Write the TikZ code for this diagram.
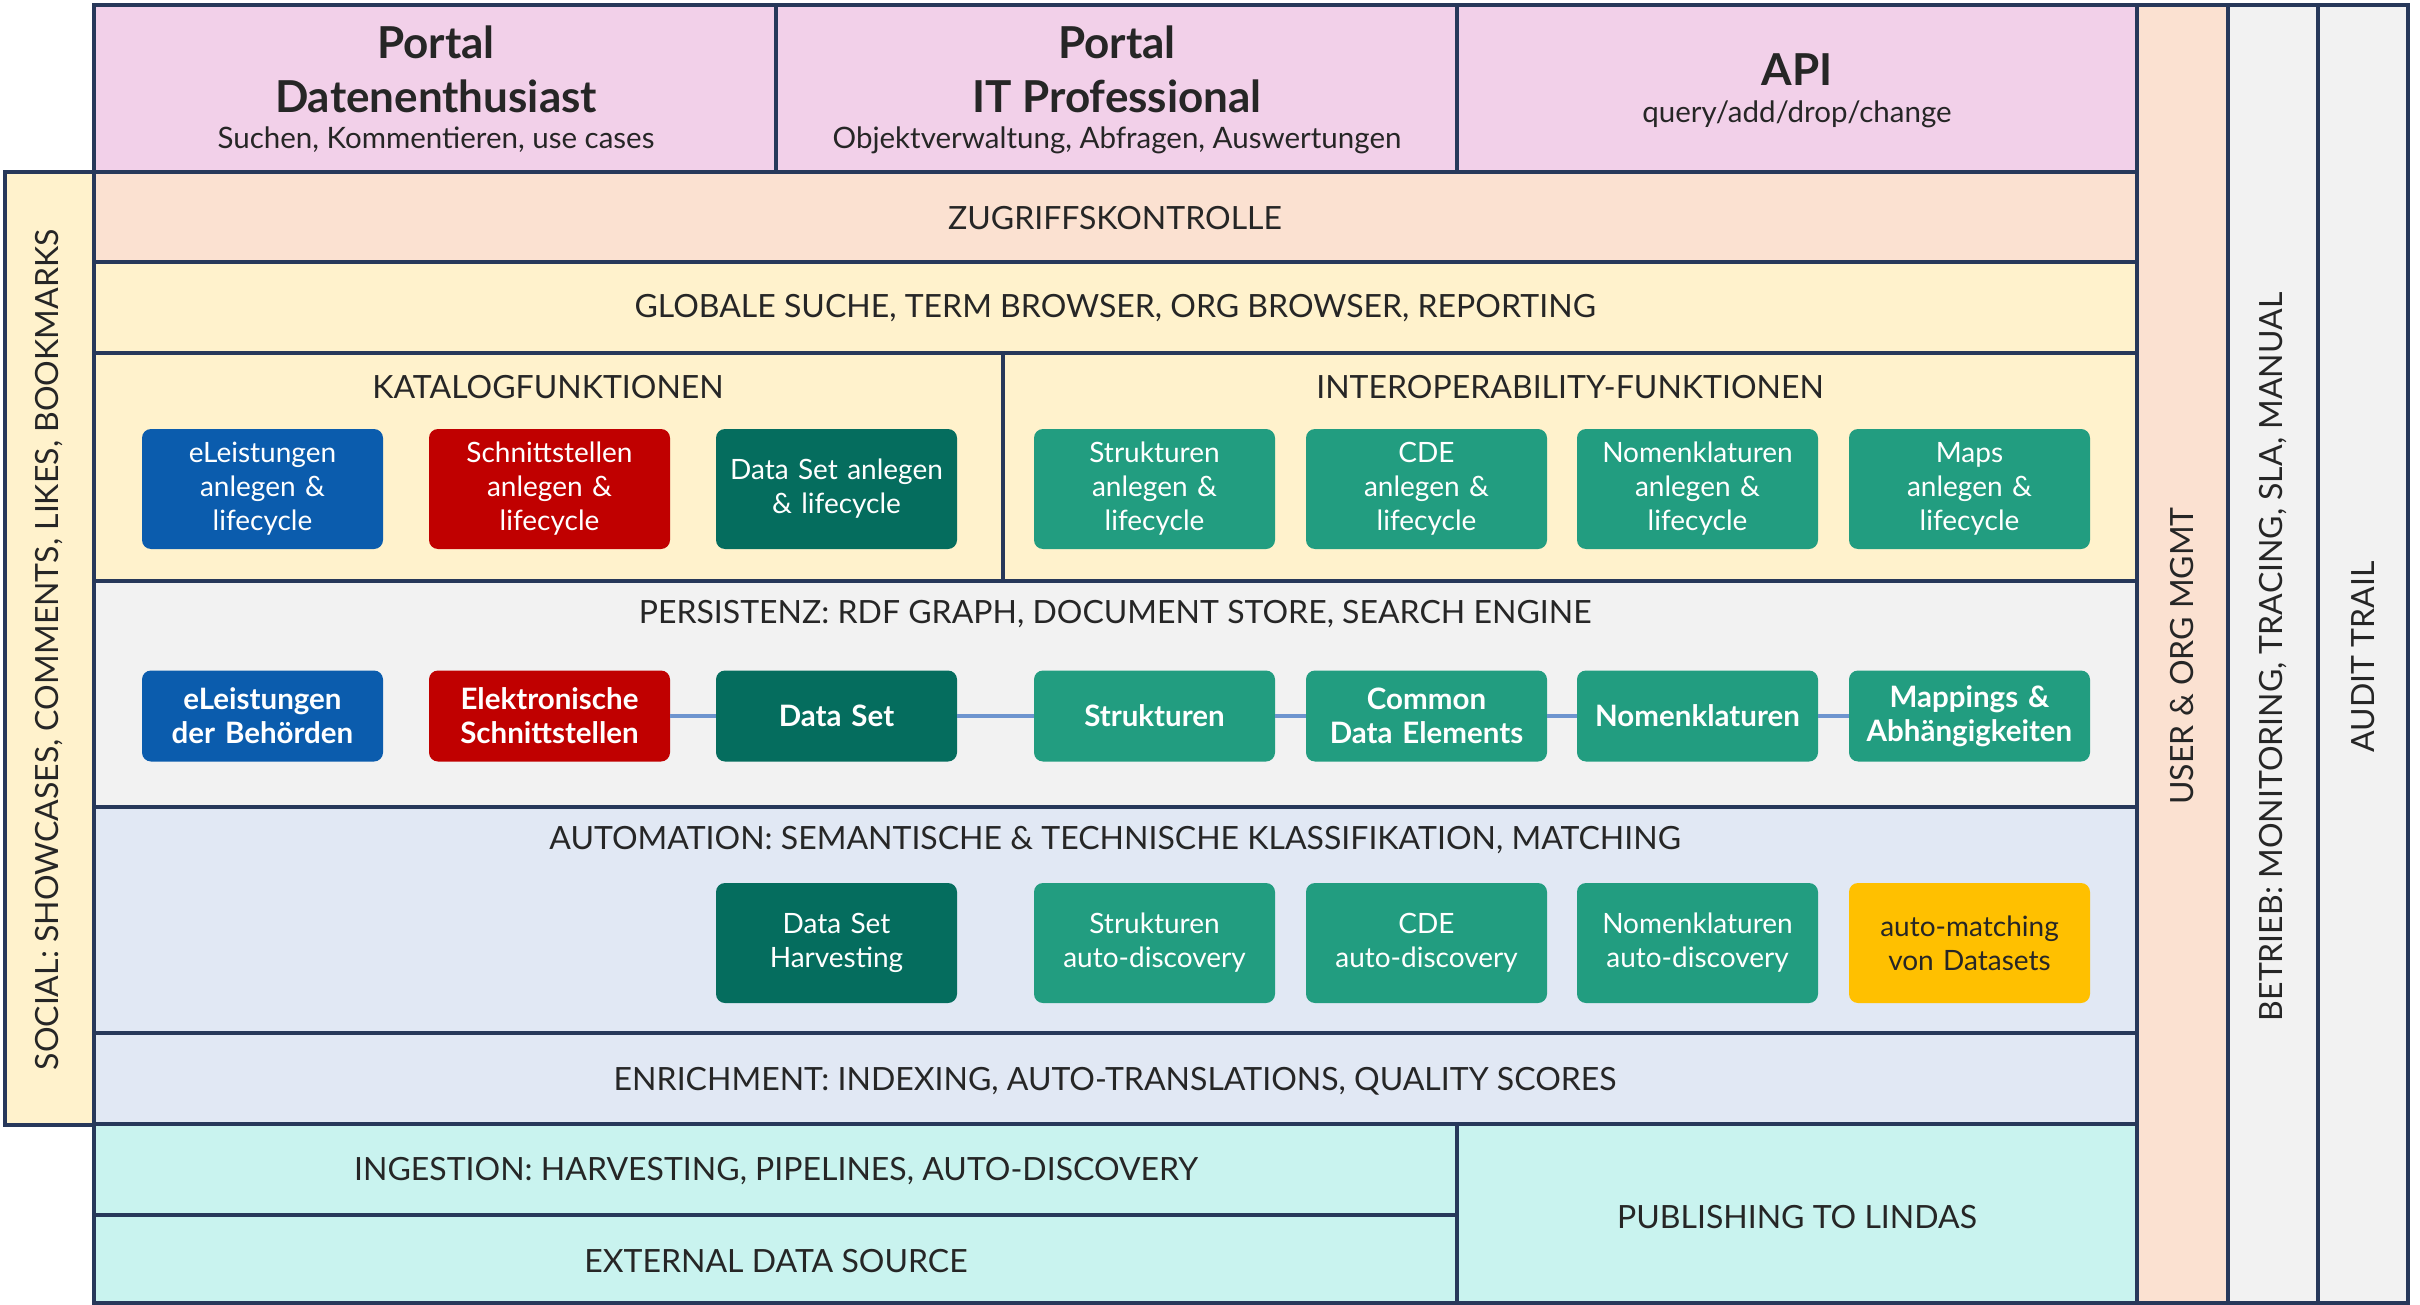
\documentclass[tikz,border=0pt]{standalone}
\usepackage{fontspec}
\setmainfont{Lato}
\definecolor{navy}{HTML}{27385A}
\definecolor{pinkbg}{HTML}{F2D0E9}
\definecolor{peachbg}{HTML}{FBE1D1}
\definecolor{yelbg}{HTML}{FFF2CC}
\definecolor{greybg}{HTML}{F2F2F2}
\definecolor{bluebg}{HTML}{E1E8F4}
\definecolor{cyanbg}{HTML}{C9F3EF}
\definecolor{boxblue}{HTML}{0B5CAD}
\definecolor{boxred}{HTML}{C00000}
\definecolor{boxdark}{HTML}{056D5E}
\definecolor{boxteal}{HTML}{229D80}
\definecolor{boxyel}{HTML}{FFC000}
\definecolor{txt}{HTML}{262626}
\definecolor{connc}{HTML}{6E95CF}
\begin{document}
\begin{tikzpicture}[x=1pt,y=-1pt,
  lay/.style={draw=navy, line width=4pt},
  hdr/.style={font=\fontsize{32}{38}\selectfont, text=txt, inner sep=0pt, align=center},
  vhdr/.style={font=\fontsize{32}{38}\selectfont, text=txt, inner sep=0pt, rotate=90},
  ptitle/.style={font=\bfseries\fontsize{44}{54}\selectfont, text=txt, inner sep=0pt, align=center},
  psub/.style={font=\fontsize{29.5}{34}\selectfont, text=txt, inner sep=0pt},
  fbox/.style={rounded corners=9pt, minimum width=241pt, text width=231pt, align=center, inner sep=0pt, text=white, font=\fontsize{28}{34}\selectfont},
  kbox/.style={fbox, minimum height=120pt},
  pbox/.style={fbox, minimum height=91pt, font=\bfseries\fontsize{29.5}{34}\selectfont},
  conn/.style={draw=connc, line width=4pt}
]
\useasboundingbox (0,0) rectangle (2420,1305);
% side columns
\draw[lay, fill=peachbg] (2137,5) rectangle (2228,1303);
\draw[lay, fill=greybg] (2228,5) rectangle (2318,1303);
\draw[lay, fill=greybg] (2318,5) rectangle (2408,1303);
\draw[lay, fill=yelbg] (5,172) rectangle (94,1125);
% portal row
\draw[lay, fill=pinkbg] (94,5) rectangle (776,172);
\draw[lay, fill=pinkbg] (776,5) rectangle (1457,172);
\draw[lay, fill=pinkbg] (1457,5) rectangle (2137,172);
% layers
\draw[lay, fill=peachbg] (94,172) rectangle (2137,262);
\draw[lay, fill=yelbg] (94,262) rectangle (2137,353);
\draw[lay, fill=yelbg] (94,353) rectangle (1003,581);
\draw[lay, fill=yelbg] (1003,353) rectangle (2137,581);
\draw[lay, fill=greybg] (94,581) rectangle (2137,807);
\draw[lay, fill=bluebg] (94,807) rectangle (2137,1033);
\draw[lay, fill=bluebg] (94,1033) rectangle (2137,1124);
\draw[lay, fill=cyanbg] (94,1124) rectangle (1457,1215);
\draw[lay, fill=cyanbg] (94,1215) rectangle (1457,1303);
\draw[lay, fill=cyanbg] (1457,1124) rectangle (2137,1303);
% portal texts
\node[ptitle] (p1t) at (436,69) {Portal\\Datenenthusiast};
\node[psub] (p1s) at (436,140) {Suchen, Kommentieren, use cases};
\node[ptitle] (p2t) at (1117,69) {Portal\\IT Professional};
\node[psub] (p2s) at (1117,140) {Objektverwaltung, Abfragen, Auswertungen};
\node[ptitle] (apit) at (1797,70) {API};
\node[psub] (apis) at (1797,114) {query/add/drop/change};
% headers
\node[hdr] (zug) at (1115,218) {ZUGRIFFSKONTROLLE};
\node[hdr] (glob) at (1115,308) {GLOBALE SUCHE, TERM BROWSER, ORG BROWSER, REPORTING};
\node[hdr] (kat) at (548,387) {KATALOGFUNKTIONEN};
\node[hdr] (intop) at (1570,387) {INTEROPERABILITY-FUNKTIONEN};
\node[hdr] (pers) at (1115,614) {PERSISTENZ: RDF GRAPH, DOCUMENT STORE, SEARCH ENGINE};
\node[hdr] (auto) at (1115,840) {AUTOMATION: SEMANTISCHE \& TECHNISCHE KLASSIFIKATION, MATCHING};
\node[hdr] (enr) at (1115,1081) {ENRICHMENT: INDEXING, AUTO-TRANSLATIONS, QUALITY SCORES};
\node[hdr] (ing) at (776,1171) {INGESTION: HARVESTING, PIPELINES, AUTO-DISCOVERY};
\node[hdr] (ext) at (776,1261) {EXTERNAL DATA SOURCE};
\node[hdr] (pub) at (1797,1217) {PUBLISHING TO LINDAS};
\node[vhdr] (soc) at (49,650) {SOCIAL: SHOWCASES, COMMENTS, LIKES, BOOKMARKS};
\node[vhdr] (usr) at (2182,656) {USER \& ORG MGMT};
\node[vhdr] (betr) at (2273,657) {BETRIEB: MONITORING, TRACING, SLA, MANUAL};
\node[vhdr] (aud) at (2363,657) {AUDIT TRAIL};
% katalog boxes
\node[kbox, fill=boxblue] (k1) at (262.5,489) {eLeistungen\\anlegen \&\\lifecycle};
\node[kbox, fill=boxred] (k2) at (549.5,489) {Schnittstellen\\anlegen \&\\lifecycle};
\node[kbox, fill=boxdark] (k3) at (836.5,489) {Data Set anlegen\\\& lifecycle};
\node[kbox, fill=boxteal] (k4) at (1154.5,489) {Strukturen\\anlegen \&\\lifecycle};
\node[kbox, fill=boxteal] (k5) at (1426.5,489) {CDE\\anlegen \&\\lifecycle};
\node[kbox, fill=boxteal] (k6) at (1697.5,489) {Nomenklaturen\\anlegen \&\\lifecycle};
\node[kbox, fill=boxteal] (k7) at (1969.5,489) {Maps\\anlegen \&\\lifecycle};
% persistence boxes
\node[pbox, fill=boxblue] (q1) at (262.5,716) {eLeistungen\\der Behörden};
\node[pbox, fill=boxred] (q2) at (549.5,716) {Elektronische\\Schnittstellen};
\node[pbox, fill=boxdark] (q3) at (836.5,716) {Data Set};
\node[pbox, fill=boxteal] (q4) at (1154.5,716) {Strukturen};
\node[pbox, fill=boxteal] (q5) at (1426.5,716) {Common\\Data Elements};
\node[pbox, fill=boxteal] (q6) at (1697.5,716) {Nomenklaturen};
\node[pbox, fill=boxteal] (q7) at (1969.5,716) {Mappings \&\\Abhängigkeiten};
\draw[conn] (q2) -- (q3);
\draw[conn] (q3) -- (q4);
\draw[conn] (q4) -- (q5);
\draw[conn] (q5) -- (q6);
\draw[conn] (q6) -- (q7);
% automation boxes
\node[kbox, fill=boxdark] (a3) at (836.5,943) {Data Set\\Harvesting};
\node[kbox, fill=boxteal] (a4) at (1154.5,943) {Strukturen\\auto-discovery};
\node[kbox, fill=boxteal] (a5) at (1426.5,943) {CDE\\auto-discovery};
\node[kbox, fill=boxteal] (a6) at (1697.5,943) {Nomenklaturen\\auto-discovery};
\node[kbox, fill=boxyel, text=txt] (a7) at (1969.5,943) {auto-matching\\von Datasets};
\end{tikzpicture}
\end{document}
